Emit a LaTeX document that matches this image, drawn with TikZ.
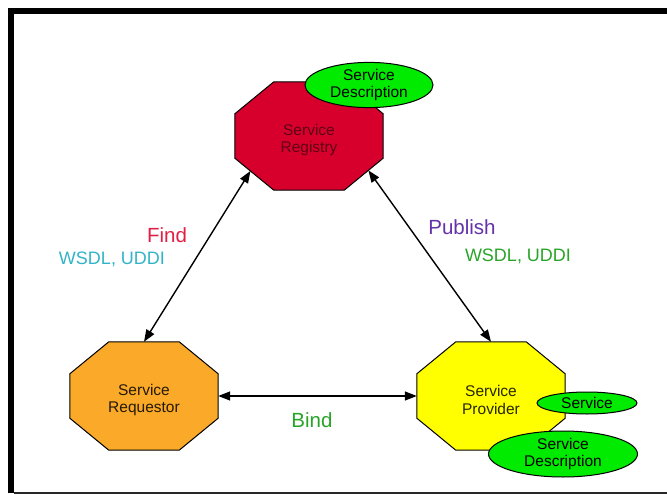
\documentclass[tikz,border=0pt]{standalone}
\usepackage{fontspec}
\setmainfont{Liberation Sans}
\usetikzlibrary{shapes.geometric,arrows.meta,calc}

\definecolor{regred}{RGB}{215,0,45}
\definecolor{regtext}{RGB}{95,0,20}
\definecolor{reqorange}{RGB}{250,170,40}
\definecolor{provyellow}{RGB}{255,255,0}
\definecolor{descgreen}{RGB}{0,235,0}
\definecolor{findred}{RGB}{225,30,70}
\definecolor{wsdlcyan}{RGB}{50,180,200}
\definecolor{pubpurple}{RGB}{100,50,170}
\definecolor{labgreen}{RGB}{40,165,40}
\definecolor{framegray}{RGB}{40,40,40}

% stretched octagon traced around a rectangular area node
\newcommand\drawoct[2]{%
  \filldraw[octline, fill=#2]
    ([xshift=39pt]#1.north west) -- ([xshift=-39pt]#1.north east)
    -- ([yshift=-32pt]#1.north east) -- ([yshift=32pt]#1.south east)
    -- ([xshift=-39pt]#1.south east) -- ([xshift=39pt]#1.south west)
    -- ([yshift=32pt]#1.south west) -- ([yshift=-32pt]#1.north west)
    -- cycle;}

\tikzset{
  octarea/.style={rectangle, minimum width=148pt, minimum height=108pt, inner sep=0pt},
  octline/.style={draw=black, line width=1pt, line join=miter},
  octtext/.style={align=center, inner sep=0pt,
    font=\fontsize{15.5}{17.5}\selectfont},
  descbox/.style={ellipse, draw=black, line width=1pt, fill=descgreen,
    align=center, inner sep=0pt, font=\fontsize{15.5}{17.5}\selectfont},
  conn/.style={line width=1.4pt,
    {Triangle[length=12pt,width=9pt]}-{Triangle[length=12pt,width=9pt]}},
  biglabel/.style={font=\fontsize{20.5}{24}\selectfont},
  smalllabel/.style={font=\fontsize{18}{21}\selectfont}
}

\begin{document}
\begin{tikzpicture}[x=1pt,y=-1pt]
  \useasboundingbox (0,0) rectangle (667,495);
  \fill[white] (0,0) rectangle (667,495);

  % page frame: heavy top and left rules, thin bottom rule
  \fill[black] (8,8) rectangle (667,14);
  \fill[black] (8,8) rectangle (14,493);
  \fill[framegray] (14,491.5) rectangle (667,493.5);

  % registry with its published description
  \node[octarea] (reg) at (309,136) {};
  \drawoct{reg}{regred}
  \node[octtext, text=regtext] (regname) at ([yshift=-4pt]reg.center) {Service\\Registry};
  \node[descbox, minimum width=128pt, minimum height=44pt] (regdesc) at (369,85) {Service\\Description};

  % requestor
  \node[octarea] (req) at (144,396) {};
  \drawoct{req}{reqorange}
  \node[octtext, text=black!85!reqorange] (reqname) at ([yshift=-4pt]req.center) {Service\\Requestor};

  % provider with its service and description
  \node[octarea] (prov) at (491,396) {};
  \drawoct{prov}{provyellow}
  \node[octtext, text=black!85!provyellow] (provname) at ([yshift=-4pt]prov.center) {Service\\Provider};
  \node[descbox, minimum width=100pt, minimum height=22pt] (svc) at (587,403) {Service};
  \node[descbox, minimum width=149pt, minimum height=46pt] (provdesc) at (563,454) {Service\\Description};

  % points on the registry's lower chamfers
  \coordinate (reg-sw) at ($([yshift=32pt]reg.south west)!0.4!([xshift=39pt]reg.south west)$);
  \coordinate (reg-se) at ($([yshift=32pt]reg.south east)!0.38!([xshift=-39pt]reg.south east)$);

  % interactions
  \draw[conn] (reg-sw) -- (req.north);
  \draw[conn] (reg-se) -- (prov.north);
  \draw[conn] (req.east) -- (prov.west);

  % labels
  \node[biglabel, text=findred] (findlab) at (167,235) {Find};
  \node[smalllabel, text=wsdlcyan] (findproto) at (112,259) {WSDL, UDDI};
  \node[biglabel, text=pubpurple] (publab) at (462,227) {Publish};
  \node[smalllabel, text=labgreen] (pubproto) at (518,256) {WSDL, UDDI};
  \node[biglabel, text=labgreen] (bindlab) at (312,420) {Bind};
\end{tikzpicture}
\end{document}
